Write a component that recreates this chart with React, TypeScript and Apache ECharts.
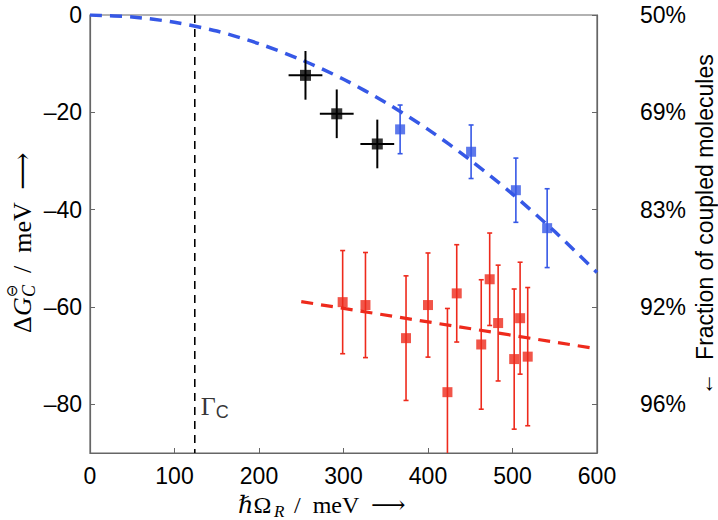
import React, { useEffect, useRef } from "react";
import * as echarts from "echarts";

// ---- data ----
const xTicks = [0, 100, 200, 300, 400, 500, 600];
const yTicks = [-80, -60, -40, -20, 0];
const rightTickLabels = ["96%", "92%", "83%", "69%", "50%"];

const blackX = [255, 292, 340];
const blackY = [-12.4, -20.3, -26.5];
const blackXErr = [20, 20, 20];
const blackYErr = [5, 5, 5];

const blueX = [367, 451, 504, 541];
const blueY = [-23.5, -28.1, -36.0, -43.8];
const blueYErr = [5, 5.5, 6.6, 8.1];

const redX = [299, 326, 374, 400, 423, 434, 463, 473, 483, 502, 509, 518];
const redY = [-59.0, -59.6, -66.4, -59.6, -77.5, -57.2, -67.7, -54.3, -63.3, -70.7, -62.3, -70.2];
const redYErr = [10.6, 10.8, 12.8, 10.7, 17.2, 10.0, 13.3, 9.5, 11.9, 14.4, 11.5, 14.2];

const blueFitX = [0, 50, 100, 150, 200, 250, 300, 350, 400, 450, 500, 550, 600];
const blueFitY = [0, -0.4, -1.5, -3.3, -5.9, -9.2, -13.2, -18.0, -23.5, -29.8, -36.8, -44.5, -52.9];

const redFitX = [250, 600];
const redFitY = [-58.9, -68.6];

const gammaCX = 124;

const X_MIN = 0, X_MAX = 600, Y_MIN = -90, Y_MAX = 0;

const BLUE = "#3658e6";
const RED = "#ee2a1c";
const AXIS = "#666666";
const SANS = "'Liberation Sans', Arial, Helvetica, sans-serif";
const SERIF = "'Liberation Serif', 'DejaVu Serif', 'DejaVu Sans', serif";

function errRender(color: string, width: number, cap: number) {
  return (params: any, api: any) => {
    const x = api.value(0), y = api.value(1), xe = api.value(2), ye = api.value(3);
    const c = api.coord([x, y]);
    const top = api.coord([x, Math.min(y + ye, Y_MAX)]);
    const bot = api.coord([x, Math.max(y - ye, Y_MIN)]);
    const children: any[] = [];
    const st = { stroke: color, lineWidth: width };
    children.push({ type: "line", shape: { x1: c[0], y1: top[1], x2: c[0], y2: bot[1] }, style: st });
    if (cap > 0) {
      if (y + ye <= Y_MAX)
        children.push({ type: "line", shape: { x1: c[0] - cap, y1: top[1], x2: c[0] + cap, y2: top[1] }, style: st });
      if (y - ye >= Y_MIN)
        children.push({ type: "line", shape: { x1: c[0] - cap, y1: bot[1], x2: c[0] + cap, y2: bot[1] }, style: st });
    }
    if (xe > 0) {
      const l = api.coord([x - xe, y]);
      const r = api.coord([x + xe, y]);
      children.push({ type: "line", shape: { x1: l[0], y1: c[1], x2: r[0], y2: c[1] }, style: st });
    }
    return { type: "group", children };
  };
}

export default function App() {
  const ref = useRef<HTMLDivElement>(null);
  useEffect(() => {
    if (!ref.current) return;
    const chart = echarts.init(ref.current, null, { renderer: "svg" });

    const blackData = blackX.map((x, i) => [x, blackY[i], blackXErr[i], blackYErr[i]]);
    const blueData = blueX.map((x, i) => [x, blueY[i], 0, blueYErr[i]]);
    const redData = redX.map((x, i) => [x, redY[i], 0, redYErr[i]]);

    const fmtMinus = (v: number) => String(v).replace("-", "\u2013");

    const option: any = {
      animation: false,
      backgroundColor: "#ffffff",
      grid: {
        left: 90, right: 121, top: 15, bottom: 67, containLabel: false,
        show: true, borderColor: AXIS, borderWidth: 1.2, backgroundColor: "transparent",
      },
      xAxis: {
        type: "value", min: X_MIN, max: X_MAX, interval: 100,
        axisLine: { show: true, onZero: false, lineStyle: { color: AXIS, width: 1.2 } },
        axisTick: { show: true, inside: true, length: 5, lineStyle: { color: AXIS }, customValues: xTicks },
        axisLabel: { color: "#000", fontFamily: SANS, fontSize: 23, margin: 11, customValues: xTicks },
        splitLine: { show: false },
      },
      yAxis: [
        {
          type: "value", min: Y_MIN, max: Y_MAX, position: "left",
          axisLine: { show: true, onZero: false, lineStyle: { color: AXIS, width: 1.2 } },
          axisTick: { show: true, inside: true, length: 5, lineStyle: { color: AXIS }, customValues: yTicks },
          axisLabel: { color: "#000", fontFamily: SANS, fontSize: 23, margin: 8, customValues: yTicks, formatter: (v: number) => fmtMinus(v) },
          splitLine: { show: false },
        },
        {
          type: "value", min: Y_MIN, max: Y_MAX, position: "right",
          axisLine: { show: true, onZero: false, lineStyle: { color: AXIS, width: 1.2 } },
          axisTick: { show: true, inside: true, length: 5, lineStyle: { color: AXIS }, customValues: yTicks },
          axisLabel: {
            color: "#000", fontFamily: SANS, fontSize: 23, margin: 43, customValues: yTicks,
            formatter: (v: number) => rightTickLabels[yTicks.indexOf(v)] ?? "",
          },
          splitLine: { show: false },
        },
      ],
      graphic: [
        {
          type: "group", x: 22, y: 333, rotation: Math.PI / 2,
          children: [
            { type: "text", x: 0, y: 0, style: { text: "\u0394", font: `26px ${SERIF}`, fill: "#000", verticalAlign: "middle" } },
            { type: "text", x: 17, y: 0, style: { text: "G", font: `italic 26px ${SERIF}`, fill: "#000", verticalAlign: "middle" } },
            { type: "text", x: 36, y: -10, style: { text: "\u2296", font: `15px 'DejaVu Sans', sans-serif`, fill: "#000", verticalAlign: "middle" } },
            { type: "text", x: 36, y: 7, style: { text: "C", font: `italic 18px ${SERIF}`, fill: "#000", verticalAlign: "middle" } },
            { type: "text", x: 60, y: 0, style: { text: "/  meV  \u27F6", font: `26px ${SERIF}`, fill: "#000", verticalAlign: "middle" } },
          ],
        },
        {
          type: "group", x: 238, y: 505,
          children: [
            { type: "text", x: 0, y: 0, style: { text: "\u210F\u03A9", font: `24px ${SERIF}`, fill: "#000", verticalAlign: "middle" } },
            { type: "text", x: 36, y: 6, style: { text: "R", font: `italic 17px ${SERIF}`, fill: "#000", verticalAlign: "middle" } },
            { type: "text", x: 56, y: 0, style: { text: "/  meV  \u27F6", font: `24px ${SERIF}`, fill: "#000", verticalAlign: "middle" } },
          ],
        },
        {
          type: "text", x: 705, y: 225, rotation: Math.PI / 2,
          style: {
            text: "\u2190  Fraction of coupled molecules", font: `23px ${SANS}`, fill: "#000",
            align: "center", verticalAlign: "middle",
          },
        },
      ],
      series: [
        {
          type: "line", data: blueFitX.map((x, i) => [x, blueFitY[i]]), smooth: 0.3,
          symbol: "none", lineStyle: { color: BLUE, width: 3.5, type: [12, 8] }, z: 3,
        },
        {
          type: "line", data: redFitX.map((x, i) => [x, redFitY[i]]),
          symbol: "none", lineStyle: { color: RED, width: 3.2, type: [12, 8] }, z: 3,
        },
        {
          type: "line", data: [[gammaCX, Y_MAX], [gammaCX, Y_MIN]],
          symbol: "none", lineStyle: { color: "#000", width: 1.6, type: [8, 6] }, z: 2,
        },
        {
          type: "scatter", data: [[gammaCX, -80.5]], symbolSize: 0, silent: true,
          label: {
            show: true, position: "right", distance: 6,
            formatter: "{g|\u0393}{c|C}",
            rich: {
              g: { fontFamily: SERIF, fontSize: 26, color: "#000" },
              c: { fontFamily: SANS, fontSize: 18, color: "#000", padding: [10, 0, 0, 0] },
            },
          },
        },
        {
          type: "custom", renderItem: errRender("#000", 2, 0), data: blackData,
          encode: { x: 0, y: 1 }, z: 4, clip: true,
        },
        {
          type: "custom", renderItem: errRender(BLUE, 1.6, 2.5), data: blueData,
          encode: { x: 0, y: 1 }, z: 4, clip: true,
        },
        {
          type: "custom", renderItem: errRender(RED, 1.6, 2.5), data: redData,
          encode: { x: 0, y: 1 }, z: 4, clip: true,
        },
        {
          type: "scatter", data: blackX.map((x, i) => [x, blackY[i]]), symbol: "rect", symbolSize: 11,
          itemStyle: { color: "#000" }, z: 5,
        },
        {
          type: "scatter", data: blueX.map((x, i) => [x, blueY[i]]), symbol: "rect", symbolSize: 10,
          itemStyle: { color: BLUE }, z: 5,
        },
        {
          type: "scatter", data: redX.map((x, i) => [x, redY[i]]), symbol: "rect", symbolSize: 10,
          itemStyle: { color: RED }, z: 5,
        },
      ],
    };
    chart.setOption(option);
    return () => chart.dispose();
  }, []);
  return (
    <div
      ref={ref}
      style={{ position: "fixed", left: 0, top: 0, width: 718, height: 520, background: "#fff" }}
    />
  );
}
